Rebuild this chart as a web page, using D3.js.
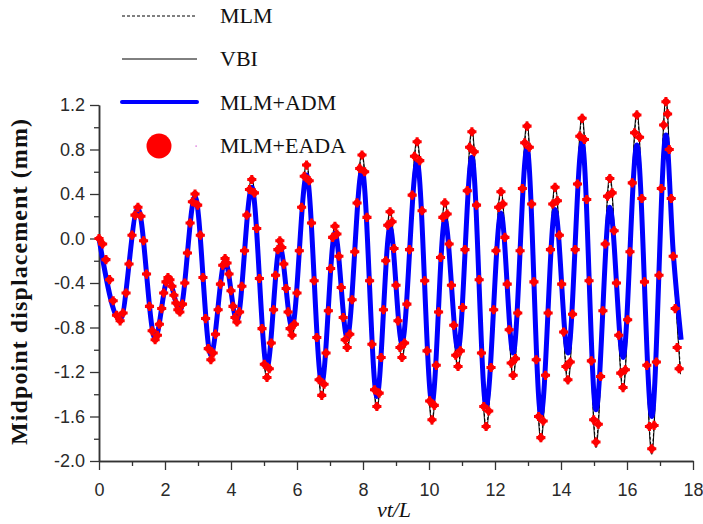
<!DOCTYPE html>
<html>
<head>
<meta charset="utf-8">
<script src="https://cdn.jsdelivr.net/npm/d3@7"></script>
<style>
  html, body { margin: 0; padding: 0; background: #fff; }
  svg { display: block; }
</style>
</head>
<body>
<svg id="chart" width="703" height="524"></svg>
<script>
// ---------------- data ----------------
const xTicks = [0, 2, 4, 6, 8, 10, 12, 14, 16, 18];
const yTicks = [-2.0, -1.6, -1.2, -0.8, -0.4, 0.0, 0.4, 0.8, 1.2];
const seriesNames = ["MLM", "VBI", "MLM+ADM", "MLM+EADA"];

// turning points (vt/L) shared by the curves
const extremaT = [0.00,0.64,1.18,1.70,2.09,2.45,2.91,3.39,3.82,4.18,4.63,5.09,5.48,5.85,6.29,6.75,7.15,7.52,7.97,8.42,8.82,9.18,9.64,10.09,10.48,10.88,11.30,11.73,12.18,12.55,12.97,13.39,13.82,14.21,14.64,15.06,15.48,15.88,16.30,16.75,17.18];

// MLM (dashed)
const mlmTailT = [17.40, 17.62];
const mlmY = [0.00,-0.74,0.28,-0.91,-0.35,-0.66,0.40,-1.09,-0.18,-0.75,0.53,-1.25,-0.02,-0.87,0.66,-1.41,0.11,-0.98,0.75,-1.51,0.24,-1.07,0.87,-1.63,0.32,-1.15,0.96,-1.69,0.42,-1.23,1.01,-1.79,0.46,-1.27,1.08,-1.83,0.54,-1.34,1.11,-1.89,1.23,-0.16,-1.17];

// VBI (thin solid)
const vbiTailT = [17.40, 17.62];
const vbiY = [0.00,-0.75,0.29,-0.92,-0.34,-0.67,0.41,-1.10,-0.17,-0.77,0.55,-1.27,0.00,-0.89,0.68,-1.44,0.13,-1.01,0.78,-1.55,0.27,-1.10,0.90,-1.67,0.35,-1.18,0.99,-1.73,0.45,-1.26,1.05,-1.83,0.49,-1.31,1.12,-1.88,0.58,-1.38,1.15,-1.94,1.27,-0.16,-1.22];

// MLM+ADM (thick blue)
const admTailT = [17.40, 17.64];
const admY = [0.00,-0.73,0.27,-0.90,-0.36,-0.65,0.38,-1.05,-0.20,-0.74,0.46,-1.16,-0.07,-0.80,0.57,-1.30,0.05,-0.89,0.62,-1.42,0.10,-0.94,0.69,-1.48,0.17,-1.00,0.73,-1.51,0.23,-1.03,0.81,-1.59,0.26,-1.03,0.86,-1.54,0.28,-1.07,0.84,-1.60,0.93,-0.12,-0.91];

// MLM+EADA (red markers)
const eadaT = [
0.00,0.11,0.21,0.32,0.43,0.53, 0.64,0.73,0.82,0.91,1.00,1.09, 1.18,1.27,1.35,1.44,1.53,1.61,
1.70,1.77,1.83,1.90,1.96,2.03, 2.09,2.15,2.21,2.27,2.33,2.39, 2.45,2.53,2.60,2.68,2.76,2.83,
2.91,2.99,3.07,3.15,3.23,3.31, 3.39,3.46,3.53,3.61,3.68,3.75, 3.82,3.88,3.94,4.00,4.06,4.12,
4.18,4.26,4.33,4.41,4.48,4.56, 4.63,4.71,4.78,4.86,4.94,5.01, 5.09,5.16,5.22,5.29,5.35,5.42,
5.48,5.54,5.60,5.67,5.73,5.79, 5.85,5.92,6.00,6.07,6.14,6.22, 6.29,6.37,6.44,6.52,6.60,6.67,
6.75,6.82,6.88,6.95,7.02,7.08, 7.15,7.21,7.27,7.34,7.40,7.46, 7.52,7.60,7.67,7.75,7.82,7.90,
7.97,8.05,8.12,8.20,8.27,8.35, 8.42,8.49,8.55,8.62,8.69,8.75, 8.82,8.88,8.94,9.00,9.06,9.12,
9.18,9.26,9.33,9.41,9.49,9.56, 9.64,9.72,9.79,9.87,9.94,10.02, 10.09,10.16,10.22,10.29,10.35,10.42,
10.48,10.55,10.61,10.68,10.75,10.81, 10.88,10.95,11.02,11.09,11.16,11.23, 11.30,11.37,11.44,11.52,11.59,11.66,
11.73,11.81,11.88,11.96,12.03,12.11, 12.18,12.24,12.30,12.37,12.43,12.49, 12.55,12.62,12.69,12.76,12.83,12.90,
12.97,13.04,13.11,13.18,13.25,13.32, 13.39,13.46,13.53,13.61,13.68,13.75, 13.82,13.89,13.95,14.02,14.08,14.15,
14.21,14.28,14.35,14.43,14.50,14.57, 14.64,14.71,14.78,14.85,14.92,14.99, 15.06,15.13,15.20,15.27,15.34,15.41,
15.48,15.55,15.61,15.68,15.75,15.81, 15.88,15.95,16.02,16.09,16.16,16.23, 16.30,16.38,16.45,16.53,16.60,16.68,
16.75,16.82,16.89,16.97,17.04,17.11, 17.18,17.23,17.28,17.34,17.40,17.46,17.52,17.58];
const eadaY = [
0.00,-0.05,-0.19,-0.37,-0.56,-0.69, -0.74,-0.67,-0.49,-0.23,0.03,0.21, 0.28,0.20,-0.02,-0.32,-0.61,-0.83,
-0.91,-0.87,-0.77,-0.63,-0.49,-0.39, -0.35,-0.37,-0.43,-0.51,-0.58,-0.64, -0.66,-0.59,-0.40,-0.13,0.14,0.33,
0.40,0.30,0.03,-0.35,-0.72,-0.99, -1.09,-1.03,-0.86,-0.64,-0.41,-0.24, -0.18,-0.22,-0.32,-0.47,-0.61,-0.71,
-0.75,-0.66,-0.43,-0.11,0.21,0.44, 0.53,0.41,0.09,-0.36,-0.81,-1.13, -1.25,-1.17,-0.94,-0.64,-0.33,-0.10,
-0.02,-0.08,-0.23,-0.45,-0.66,-0.81, -0.87,-0.77,-0.49,-0.11,0.28,0.56, 0.66,0.52,0.14,-0.38,-0.89,-1.27,
-1.41,-1.31,-1.03,-0.65,-0.27,0.01, 0.11,0.04,-0.16,-0.44,-0.71,-0.91, -0.98,-0.86,-0.55,-0.12,0.32,0.63,
0.75,0.60,0.19,-0.38,-0.95,-1.36, -1.51,-1.39,-1.07,-0.64,-0.20,0.12, 0.24,0.15,-0.09,-0.42,-0.74,-0.98,
-1.07,-0.94,-0.59,-0.10,0.39,0.74, 0.87,0.70,0.25,-0.38,-1.01,-1.46, -1.63,-1.50,-1.14,-0.66,-0.17,0.19,
0.32,0.22,-0.05,-0.42,-0.78,-1.05, -1.15,-1.01,-0.62,-0.10,0.43,0.82, 0.96,0.78,0.30,-0.37,-1.03,-1.51,
-1.69,-1.55,-1.16,-0.64,-0.11,0.28, 0.42,0.31,0.01,-0.41,-0.82,-1.12, -1.23,-1.08,-0.67,-0.11,0.45,0.86,
1.01,0.82,0.31,-0.39,-1.09,-1.60, -1.79,-1.64,-1.23,-0.67,-0.10,0.31, 0.46,0.34,0.03,-0.41,-0.84,-1.15,
-1.27,-1.11,-0.68,-0.10,0.49,0.92, 1.08,0.89,0.35,-0.38,-1.10,-1.63, -1.83,-1.67,-1.24,-0.65,-0.05,0.38,
0.54,0.41,0.07,-0.40,-0.87,-1.21, -1.34,-1.18,-0.73,-0.12,0.50,0.95, 1.11,0.91,0.36,-0.39,-1.14,-1.69,
-1.89,-1.68,-1.11,-0.33,0.45,1.02, 1.23,1.12,0.80,0.36,-0.16,-0.63,-0.98,-1.17];

// ---------------- drawing ----------------
const svg = d3.select("#chart");
const x = d3.scaleLinear().domain([0, 18]).range([99, 693]);
const y = d3.scaleLinear().domain([-2.0, 1.2]).range([461, 105]);

const zip = (T, Y) => T.map((t, i) => [t, Y[i]]);
const line = d3.line().x(d => x(d[0])).y(d => y(d[1])).curve(d3.curveMonotoneX);

const mlmData = zip(extremaT.concat(mlmTailT), mlmY);
const vbiData = zip(extremaT.concat(vbiTailT), vbiY);
const admData = zip(extremaT.concat(admTailT), admY);
const eadaData = zip(eadaT, eadaY);

// axes
const axisColor = "#333";
const labelFont = "'Liberation Sans', Arial, sans-serif";
const serif = "'Liberation Serif', 'Times New Roman', serif";

const yMinor = d3.range(-1.8, 1.2, 0.4).map(v => +v.toFixed(1));
const xMinor = d3.range(1, 18, 2);

function styleAxis(g) {
  g.selectAll("path.domain").attr("stroke", axisColor).attr("stroke-width", 1.5);
  g.selectAll(".tick line").attr("stroke", axisColor).attr("stroke-width", 1.3);
  g.selectAll(".tick text").attr("fill", "#2a2a2a").style("font-family", labelFont).style("font-size", "18px");
}

svg.append("g").attr("transform", "translate(99,0)")
  .call(d3.axisLeft(y).tickValues(yMinor).tickSize(5).tickFormat("").tickSizeOuter(0))
  .call(styleAxis);
svg.append("g").attr("transform", "translate(99,0)")
  .call(d3.axisLeft(y).tickValues(yTicks).tickSize(9).tickPadding(5).tickSizeOuter(0)
    .tickFormat(d => d.toFixed(1)))
  .call(styleAxis);

svg.append("g").attr("transform", "translate(0,461)")
  .call(d3.axisBottom(x).tickValues(xMinor).tickSize(5).tickFormat("").tickSizeOuter(0))
  .call(styleAxis);
svg.append("g").attr("transform", "translate(0,461)")
  .call(d3.axisBottom(x).tickValues(xTicks).tickSize(9).tickPadding(13).tickSizeOuter(0)
    .tickFormat(d3.format("d")))
  .call(styleAxis);

// axis titles
svg.append("text")
  .attr("transform", "translate(27,282) rotate(-90)")
  .attr("text-anchor", "middle")
  .attr("textLength", 326).attr("lengthAdjust", "spacing")
  .style("font-family", serif).style("font-size", "24px").style("font-weight", "bold")
  .attr("fill", "#111")
  .text("Midpoint displacement (mm)");

svg.append("text")
  .attr("x", 394).attr("y", 517)
  .attr("text-anchor", "middle")
  .style("font-family", serif).style("font-size", "22px").style("font-style", "italic")
  .attr("fill", "#111")
  .text("vt/L");

// series
svg.append("path").datum(mlmData).attr("d", line)
  .attr("fill", "none").attr("stroke", "#000").attr("stroke-width", 1).attr("stroke-dasharray", "3,2");
svg.append("path").datum(vbiData).attr("d", line)
  .attr("fill", "none").attr("stroke", "#000").attr("stroke-width", 1);
svg.append("path").datum(admData).attr("d", line)
  .attr("fill", "none").attr("stroke", "#0000ff").attr("stroke-width", 5)
  .attr("stroke-linejoin", "round");

const markerG = svg.append("g").attr("fill", "#ff0000");
const crossSym = d3.symbol().type(d3.symbolCross).size(46);
markerG.selectAll("path.cross").data(eadaData).join("path").attr("class", "cross")
  .attr("transform", d => `translate(${x(d[0])},${y(d[1])})`)
  .attr("d", crossSym);
markerG.selectAll("circle").data(eadaData).join("circle")
  .attr("cx", d => x(d[0])).attr("cy", d => y(d[1])).attr("r", 3.3);

// legend
const legend = svg.append("g");
const lgY = [16, 59, 102, 146];
const lgBase = [23, 66, 110, 153];
legend.append("line").attr("x1", 122).attr("x2", 197).attr("y1", lgY[0]).attr("y2", lgY[0])
  .attr("stroke", "#000").attr("stroke-width", 1).attr("stroke-dasharray", "3,2");
legend.append("line").attr("x1", 122).attr("x2", 197).attr("y1", lgY[1]).attr("y2", lgY[1])
  .attr("stroke", "#000").attr("stroke-width", 1);
legend.append("line").attr("x1", 122).attr("x2", 197).attr("y1", lgY[2]).attr("y2", lgY[2])
  .attr("stroke", "#0000ff").attr("stroke-width", 4).attr("stroke-linecap", "round");
legend.append("circle").attr("cx", 159).attr("cy", lgY[3]).attr("r", 12.5).attr("fill", "#ff0000");
legend.append("rect").attr("x", 195.5).attr("y", lgY[3] - 0.5).attr("width", 1.2).attr("height", 1.2).attr("fill", "#d040d0");
legend.selectAll("text").data(seriesNames).join("text")
  .attr("x", 220).attr("y", (d, i) => lgBase[i])
  .style("font-family", serif).style("font-size", "22px")
  .attr("fill", "#111")
  .text(d => d);
</script>
</body>
</html>
